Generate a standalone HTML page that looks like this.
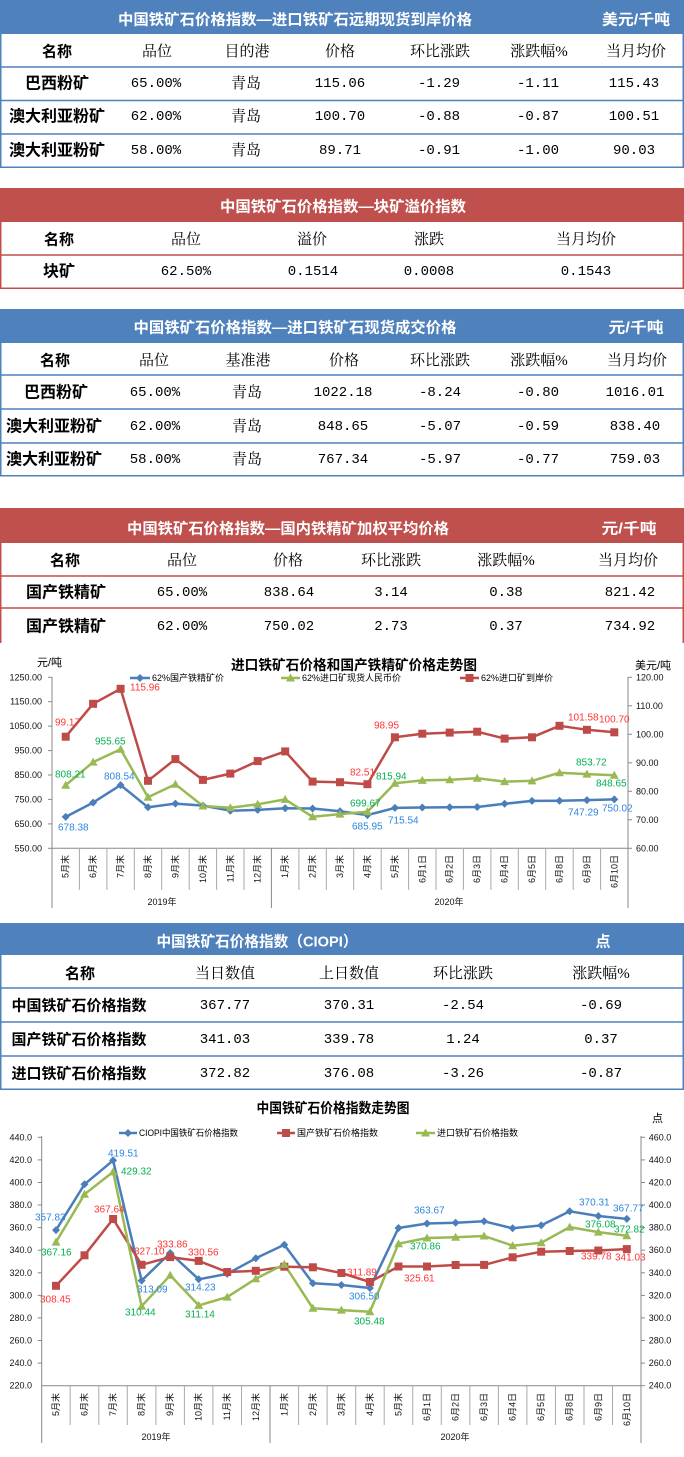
<!DOCTYPE html>
<html><head><meta charset="utf-8"><style>
html,body{margin:0;padding:0;background:#fff;}
svg{display:block;}
.t{font-family:"Liberation Sans","Noto Sans CJK SC",sans-serif;font-weight:bold;font-size:15px;fill:#fff;}
.h{font-family:"Liberation Serif","Noto Serif CJK SC",serif;font-size:15px;fill:#000;}
.hb{font-family:"Liberation Sans","Noto Sans CJK SC",sans-serif;font-weight:bold;font-size:15px;fill:#000;}
.rl{font-family:"Liberation Sans","Noto Sans CJK SC",sans-serif;font-weight:bold;font-size:16px;fill:#000;}
.n{font-family:"Liberation Mono","Noto Sans CJK SC",monospace;font-size:14px;fill:#000;}
.ax{font-family:"Liberation Sans","Noto Sans CJK SC",sans-serif;font-size:9px;fill:#111;}
.ct{font-family:"Liberation Sans","Noto Sans CJK SC",sans-serif;font-weight:bold;font-size:14px;fill:#000;}
.un{font-family:"Liberation Sans","Noto Sans CJK SC",sans-serif;font-size:11px;fill:#000;}
.lg{font-family:"Liberation Sans","Noto Sans CJK SC",sans-serif;font-size:9px;fill:#000;}
.dl{font-family:"Liberation Sans","Noto Sans CJK SC",sans-serif;font-size:10px;}
.rb{fill:#2e86de}.rr{fill:#ff3333}.rg{fill:#00b050}
text{dominant-baseline:central;}
.m{text-anchor:middle;}
</style></head><body>
<svg width="684" height="1457" viewBox="0 0 684 1457" xmlns="http://www.w3.org/2000/svg">
<defs>
<path id="dm" d="M0,-4 L4,0 L0,4 L-4,0Z" fill="#4A7EBB"/>
<path id="tr" d="M0,-4.5 L4.5,3.5 L-4.5,3.5Z" fill="#98B954"/>
<rect id="sq" x="-4" y="-4" width="8" height="8" fill="#BE4B48"/>
</defs>

<!-- ===== TABLE 1 ===== -->
<rect x="0" y="0" width="684" height="34" fill="#4F81BD"/>
<rect x="0.75" y="0.75" width="682.5" height="166.5" fill="none" stroke="#4F81BD" stroke-width="1.5"/>
<g stroke="#4F81BD" stroke-width="1.5"><line x1="0" y1="67" x2="684" y2="67"/><line x1="0" y1="100.5" x2="684" y2="100.5"/><line x1="0" y1="134" x2="684" y2="134"/></g>
<text class="t m" x="295" y="20" textLength="354" lengthAdjust="spacingAndGlyphs">中国铁矿石价格指数—进口铁矿石远期现货到岸价格</text>
<text class="t m" x="636" y="20" textLength="68" lengthAdjust="spacingAndGlyphs">美元/千吨</text>
<text class="hb m" x="57" y="52">名称</text><text class="h m" x="157" y="52">品位</text><text class="h m" x="247" y="52">目的港</text><text class="h m" x="340" y="52">价格</text><text class="h m" x="440" y="52">环比涨跌</text><text class="h m" x="539" y="52">涨跌幅%</text><text class="h m" x="636" y="52">当月均价</text>
<text class="rl m" x="57" y="84">巴西粉矿</text><text class="n m" x="156" y="84">65.00%</text><text class="h m" x="246" y="84">青岛</text><text class="n m" x="340" y="84">115.06</text><text class="n m" x="439" y="84">-1.29</text><text class="n m" x="538" y="84">-1.11</text><text class="n m" x="634" y="84">115.43</text>
<text class="rl m" x="57" y="117">澳大利亚粉矿</text><text class="n m" x="156" y="117">62.00%</text><text class="h m" x="246" y="117">青岛</text><text class="n m" x="340" y="117">100.70</text><text class="n m" x="439" y="117">-0.88</text><text class="n m" x="538" y="117">-0.87</text><text class="n m" x="634" y="117">100.51</text>
<text class="rl m" x="57" y="151">澳大利亚粉矿</text><text class="n m" x="156" y="151">58.00%</text><text class="h m" x="246" y="151">青岛</text><text class="n m" x="340" y="151">89.71</text><text class="n m" x="439" y="151">-0.91</text><text class="n m" x="538" y="151">-1.00</text><text class="n m" x="634" y="151">90.03</text>

<!-- ===== TABLE 2 ===== -->
<rect x="0" y="188" width="684" height="34" fill="#C0504D"/>
<rect x="0.75" y="188.75" width="682.5" height="99.5" fill="none" stroke="#C0504D" stroke-width="1.5"/>
<line x1="0" y1="255" x2="684" y2="255" stroke="#C0504D" stroke-width="1.5"/>
<text class="t m" x="343" y="207" textLength="246" lengthAdjust="spacingAndGlyphs">中国铁矿石价格指数—块矿溢价指数</text>
<text class="hb m" x="59" y="240">名称</text><text class="h m" x="186" y="240">品位</text><text class="h m" x="312" y="240">溢价</text><text class="h m" x="429" y="240">涨跌</text><text class="h m" x="586" y="240">当月均价</text>
<text class="rl m" x="59" y="272">块矿</text><text class="n m" x="186" y="272">62.50%</text><text class="n m" x="313" y="272">0.1514</text><text class="n m" x="429" y="272">0.0008</text><text class="n m" x="586" y="272">0.1543</text>

<!-- ===== TABLE 3 ===== -->
<rect x="0" y="309" width="684" height="34" fill="#4F81BD"/>
<rect x="0.75" y="309.75" width="682.5" height="166" fill="none" stroke="#4F81BD" stroke-width="1.5"/>
<g stroke="#4F81BD" stroke-width="1.5"><line x1="0" y1="375" x2="684" y2="375"/><line x1="0" y1="409" x2="684" y2="409"/><line x1="0" y1="443" x2="684" y2="443"/></g>
<text class="t m" x="295" y="328" textLength="323" lengthAdjust="spacingAndGlyphs">中国铁矿石价格指数—进口铁矿石现货成交价格</text>
<text class="t m" x="636" y="328" textLength="55" lengthAdjust="spacingAndGlyphs">元/千吨</text>
<text class="hb m" x="55" y="361">名称</text><text class="h m" x="154" y="361">品位</text><text class="h m" x="248" y="361">基准港</text><text class="h m" x="344" y="361">价格</text><text class="h m" x="440" y="361">环比涨跌</text><text class="h m" x="539" y="361">涨跌幅%</text><text class="h m" x="637" y="361">当月均价</text>
<text class="rl m" x="56" y="393">巴西粉矿</text><text class="n m" x="155" y="393">65.00%</text><text class="h m" x="247" y="393">青岛</text><text class="n m" x="343" y="393">1022.18</text><text class="n m" x="440" y="393">-8.24</text><text class="n m" x="538" y="393">-0.80</text><text class="n m" x="635" y="393">1016.01</text>
<text class="rl m" x="54" y="427">澳大利亚粉矿</text><text class="n m" x="155" y="427">62.00%</text><text class="h m" x="247" y="427">青岛</text><text class="n m" x="343" y="427">848.65</text><text class="n m" x="440" y="427">-5.07</text><text class="n m" x="538" y="427">-0.59</text><text class="n m" x="635" y="427">838.40</text>
<text class="rl m" x="54" y="460">澳大利亚粉矿</text><text class="n m" x="155" y="460">58.00%</text><text class="h m" x="247" y="460">青岛</text><text class="n m" x="343" y="460">767.34</text><text class="n m" x="440" y="460">-5.97</text><text class="n m" x="538" y="460">-0.77</text><text class="n m" x="635" y="460">759.03</text>

<!-- ===== TABLE 4 ===== -->
<rect x="0" y="508" width="684" height="35" fill="#C0504D"/>
<g stroke="#C0504D" stroke-width="1.5"><line x1="0.75" y1="508" x2="0.75" y2="643"/><line x1="683.25" y1="508" x2="683.25" y2="643"/><line x1="0" y1="576" x2="684" y2="576"/><line x1="0" y1="608" x2="684" y2="608"/></g>
<text class="t m" x="288" y="529" textLength="322" lengthAdjust="spacingAndGlyphs">中国铁矿石价格指数—国内铁精矿加权平均价格</text>
<text class="t m" x="629" y="529" textLength="55" lengthAdjust="spacingAndGlyphs">元/千吨</text>
<text class="hb m" x="65" y="561">名称</text><text class="h m" x="182" y="561">品位</text><text class="h m" x="288" y="561">价格</text><text class="h m" x="391" y="561">环比涨跌</text><text class="h m" x="506" y="561">涨跌幅%</text><text class="h m" x="628" y="561">当月均价</text>
<text class="rl m" x="66" y="593">国产铁精矿</text><text class="n m" x="182" y="593">65.00%</text><text class="n m" x="289" y="593">838.64</text><text class="n m" x="391" y="593">3.14</text><text class="n m" x="506" y="593">0.38</text><text class="n m" x="630" y="593">821.42</text>
<text class="rl m" x="66" y="627">国产铁精矿</text><text class="n m" x="182" y="627">62.00%</text><text class="n m" x="289" y="627">750.02</text><text class="n m" x="391" y="627">2.73</text><text class="n m" x="506" y="627">0.37</text><text class="n m" x="630" y="627">734.92</text>

<!-- ===== CHART 1 ===== -->
<text class="ct m" x="354" y="665" textLength="246" lengthAdjust="spacingAndGlyphs">进口铁矿石价格和国产铁精矿价格走势图</text>
<text class="un" x="37" y="663">元/吨</text>
<text class="un" x="635" y="666">美元/吨</text>
<!-- legend -->
<line x1="130" y1="678" x2="150" y2="678" stroke="#4A7EBB" stroke-width="2.5"/><use href="#dm" x="140" y="678"/>
<text class="lg" x="152" y="678">62%国产铁精矿价</text>
<line x1="281" y1="678" x2="300" y2="678" stroke="#98B954" stroke-width="2.5"/><use href="#tr" x="290.5" y="678"/>
<text class="lg" x="302" y="678">62%进口矿现货人民币价</text>
<line x1="460" y1="678" x2="479" y2="678" stroke="#BE4B48" stroke-width="2.5"/><use href="#sq" x="469.5" y="678"/>
<text class="lg" x="481" y="678">62%进口矿到岸价</text>
<!-- axes -->
<g stroke="#888" stroke-width="1">
<line x1="52" y1="677" x2="52" y2="908"/>
<line x1="628" y1="677" x2="628" y2="908"/>
<line x1="52" y1="848.3" x2="628" y2="848.3"/>
<line x1="271.4" y1="848" x2="271.4" y2="908"/>
<line x1="48" y1="677.3" x2="52" y2="677.3"/><line x1="48" y1="701.7" x2="52" y2="701.7"/><line x1="48" y1="726.1" x2="52" y2="726.1"/><line x1="48" y1="750.6" x2="52" y2="750.6"/><line x1="48" y1="775" x2="52" y2="775"/><line x1="48" y1="799.4" x2="52" y2="799.4"/><line x1="48" y1="823.9" x2="52" y2="823.9"/><line x1="48" y1="848.3" x2="52" y2="848.3"/>
<line x1="628" y1="677.3" x2="632" y2="677.3"/><line x1="628" y1="705.8" x2="632" y2="705.8"/><line x1="628" y1="734.3" x2="632" y2="734.3"/><line x1="628" y1="762.8" x2="632" y2="762.8"/><line x1="628" y1="791.3" x2="632" y2="791.3"/><line x1="628" y1="819.8" x2="632" y2="819.8"/><line x1="628" y1="848.3" x2="632" y2="848.3"/>
</g>
<g stroke="#aaa" stroke-width="1">
<line x1="79.4" y1="848" x2="79.4" y2="890"/><line x1="106.9" y1="848" x2="106.9" y2="890"/><line x1="134.3" y1="848" x2="134.3" y2="890"/><line x1="161.7" y1="848" x2="161.7" y2="890"/><line x1="189.2" y1="848" x2="189.2" y2="890"/><line x1="216.6" y1="848" x2="216.6" y2="890"/><line x1="244" y1="848" x2="244" y2="890"/><line x1="298.9" y1="848" x2="298.9" y2="890"/><line x1="326.3" y1="848" x2="326.3" y2="890"/><line x1="353.7" y1="848" x2="353.7" y2="890"/><line x1="381.2" y1="848" x2="381.2" y2="890"/><line x1="408.6" y1="848" x2="408.6" y2="890"/><line x1="436" y1="848" x2="436" y2="890"/><line x1="463.4" y1="848" x2="463.4" y2="890"/><line x1="490.9" y1="848" x2="490.9" y2="890"/><line x1="518.3" y1="848" x2="518.3" y2="890"/><line x1="545.7" y1="848" x2="545.7" y2="890"/><line x1="573.2" y1="848" x2="573.2" y2="890"/><line x1="600.6" y1="848" x2="600.6" y2="890"/>
</g>
<g class="ax" text-anchor="end">
<text x="42" y="677.3">1250.00</text><text x="42" y="701.7">1150.00</text><text x="42" y="726.1">1050.00</text><text x="42" y="750.6">950.00</text><text x="42" y="775">850.00</text><text x="42" y="799.4">750.00</text><text x="42" y="823.9">650.00</text><text x="42" y="848.3">550.00</text>
</g>
<g class="ax">
<text x="636" y="677.3">120.00</text><text x="636" y="705.8">110.00</text><text x="636" y="734.3">100.00</text><text x="636" y="762.8">90.00</text><text x="636" y="791.3">80.00</text><text x="636" y="819.8">70.00</text><text x="636" y="848.3">60.00</text>
</g>
<g class="ax" text-anchor="end">
<text transform="translate(65.7,855) rotate(-90)">5月末</text><text transform="translate(93.1,855) rotate(-90)">6月末</text><text transform="translate(120.6,855) rotate(-90)">7月末</text><text transform="translate(148,855) rotate(-90)">8月末</text><text transform="translate(175.4,855) rotate(-90)">9月末</text><text transform="translate(202.9,855) rotate(-90)">10月末</text><text transform="translate(230.3,855) rotate(-90)">11月末</text><text transform="translate(257.7,855) rotate(-90)">12月末</text><text transform="translate(285.2,855) rotate(-90)">1月末</text><text transform="translate(312.6,855) rotate(-90)">2月末</text><text transform="translate(340,855) rotate(-90)">3月末</text><text transform="translate(367.4,855) rotate(-90)">4月末</text><text transform="translate(394.9,855) rotate(-90)">5月末</text><text transform="translate(422.3,855) rotate(-90)">6月1日</text><text transform="translate(449.7,855) rotate(-90)">6月2日</text><text transform="translate(477.2,855) rotate(-90)">6月3日</text><text transform="translate(504.6,855) rotate(-90)">6月4日</text><text transform="translate(532,855) rotate(-90)">6月5日</text><text transform="translate(559.5,855) rotate(-90)">6月8日</text><text transform="translate(586.9,855) rotate(-90)">6月9日</text><text transform="translate(614.3,855) rotate(-90)">6月10日</text>
</g>
<text class="ax m" x="162" y="902">2019年</text>
<text class="ax m" x="449" y="902">2020年</text>
<!-- series -->
<polyline fill="none" stroke="#4A7EBB" stroke-width="2.5" stroke-linejoin="round" points="65.7,816.9 93.1,802.6 120.6,785.1 148.0,807.3 175.4,803.6 202.9,805.6 230.3,810.7 257.7,809.9 285.2,808.2 312.6,808.5 340.0,811.2 367.4,815.1 394.9,807.9 422.3,807.5 449.7,807.3 477.2,807.0 504.6,803.8 532.0,800.9 559.5,800.7 586.9,800.1 614.3,799.4"/>
<polyline fill="none" stroke="#98B954" stroke-width="2.5" stroke-linejoin="round" points="65.7,785.2 93.1,762.1 120.6,749.2 148.0,797.2 175.4,784.3 202.9,806.0 230.3,807.7 257.7,804.3 285.2,799.4 312.6,816.8 340.0,814.1 367.4,811.7 394.9,783.3 422.3,780.4 449.7,779.7 477.2,778.2 504.6,781.6 532.0,780.9 559.5,772.7 586.9,774.1 614.3,775.3"/>
<polyline fill="none" stroke="#BE4B48" stroke-width="2.5" stroke-linejoin="round" points="65.7,736.7 93.1,703.8 120.6,688.8 148.0,780.8 175.4,759.1 202.9,779.9 230.3,773.6 257.7,761.1 285.2,751.4 312.6,781.6 340.0,782.2 367.4,784.2 394.9,737.3 422.3,733.7 449.7,732.6 477.2,731.7 504.6,738.6 532.0,737.3 559.5,725.8 586.9,729.8 614.3,732.3"/>
<g>
<use href="#dm" x="65.7" y="816.9"/><use href="#dm" x="93.1" y="802.6"/><use href="#dm" x="120.6" y="785.1"/><use href="#dm" x="148" y="807.3"/><use href="#dm" x="175.4" y="803.6"/><use href="#dm" x="202.9" y="805.6"/><use href="#dm" x="230.3" y="810.7"/><use href="#dm" x="257.7" y="809.9"/><use href="#dm" x="285.2" y="808.2"/><use href="#dm" x="312.6" y="808.5"/><use href="#dm" x="340" y="811.2"/><use href="#dm" x="367.4" y="815.1"/><use href="#dm" x="394.9" y="807.9"/><use href="#dm" x="422.3" y="807.5"/><use href="#dm" x="449.7" y="807.3"/><use href="#dm" x="477.2" y="807"/><use href="#dm" x="504.6" y="803.8"/><use href="#dm" x="532" y="800.9"/><use href="#dm" x="559.5" y="800.7"/><use href="#dm" x="586.9" y="800.1"/><use href="#dm" x="614.3" y="799.4"/>
<use href="#tr" x="65.7" y="785.2"/><use href="#tr" x="93.1" y="762.1"/><use href="#tr" x="120.6" y="749.2"/><use href="#tr" x="148" y="797.2"/><use href="#tr" x="175.4" y="784.3"/><use href="#tr" x="202.9" y="806"/><use href="#tr" x="230.3" y="807.7"/><use href="#tr" x="257.7" y="804.3"/><use href="#tr" x="285.2" y="799.4"/><use href="#tr" x="312.6" y="816.8"/><use href="#tr" x="340" y="814.1"/><use href="#tr" x="367.4" y="811.7"/><use href="#tr" x="394.9" y="783.3"/><use href="#tr" x="422.3" y="780.4"/><use href="#tr" x="449.7" y="779.7"/><use href="#tr" x="477.2" y="778.2"/><use href="#tr" x="504.6" y="781.6"/><use href="#tr" x="532" y="780.9"/><use href="#tr" x="559.5" y="772.7"/><use href="#tr" x="586.9" y="774.1"/><use href="#tr" x="614.3" y="775.3"/>
<use href="#sq" x="65.7" y="736.7"/><use href="#sq" x="93.1" y="703.8"/><use href="#sq" x="120.6" y="688.8"/><use href="#sq" x="148" y="780.8"/><use href="#sq" x="175.4" y="759.1"/><use href="#sq" x="202.9" y="779.9"/><use href="#sq" x="230.3" y="773.6"/><use href="#sq" x="257.7" y="761.1"/><use href="#sq" x="285.2" y="751.4"/><use href="#sq" x="312.6" y="781.6"/><use href="#sq" x="340" y="782.2"/><use href="#sq" x="367.4" y="784.2"/><use href="#sq" x="394.9" y="737.3"/><use href="#sq" x="422.3" y="733.7"/><use href="#sq" x="449.7" y="732.6"/><use href="#sq" x="477.2" y="731.7"/><use href="#sq" x="504.6" y="738.6"/><use href="#sq" x="532" y="737.3"/><use href="#sq" x="559.5" y="725.8"/><use href="#sq" x="586.9" y="729.8"/><use href="#sq" x="614.3" y="732.3"/>
</g>
<g class="dl">
<text class="rr" x="55" y="723">99.17</text>
<text class="rr" x="130" y="688">115.96</text>
<text class="rg" x="95" y="742">955.65</text>
<text class="rg" x="55" y="775">808.21</text>
<text class="rb" x="104" y="777">808.54</text>
<text class="rb" x="58" y="828">678.38</text>
<text class="rr" x="350" y="773">82.51</text>
<text class="rg" x="350" y="804">699.67</text>
<text class="rb" x="352" y="827">685.95</text>
<text class="rr" x="374" y="726">98.95</text>
<text class="rg" x="376" y="777">815.94</text>
<text class="rb" x="388" y="821">715.54</text>
<text class="rr" x="568" y="718">101.58</text>
<text class="rr" x="599" y="720">100.70</text>
<text class="rg" x="576" y="763">853.72</text>
<text class="rg" x="596" y="784">848.65</text>
<text class="rb" x="568" y="813">747.29</text>
<text class="rb" x="602" y="809">750.02</text>
</g>

<!-- ===== CIOPI TABLE ===== -->
<rect x="0" y="923" width="684" height="32" fill="#4F81BD"/>
<rect x="0.75" y="923.75" width="682.5" height="165.5" fill="none" stroke="#4F81BD" stroke-width="1.5"/>
<g stroke="#4F81BD" stroke-width="1.5"><line x1="0" y1="988" x2="684" y2="988"/><line x1="0" y1="1022" x2="684" y2="1022"/><line x1="0" y1="1056" x2="684" y2="1056"/></g>
<text class="t m" x="257" y="942" textLength="201" lengthAdjust="spacingAndGlyphs">中国铁矿石价格指数（CIOPI）</text>
<text class="t m" x="603" y="942">点</text>
<text class="hb m" x="80" y="974">名称</text><text class="h m" x="225" y="974">当日数值</text><text class="h m" x="349" y="974">上日数值</text><text class="h m" x="463" y="974">环比涨跌</text><text class="h m" x="601" y="974">涨跌幅%</text>
<text class="hb m" x="79" y="1006">中国铁矿石价格指数</text><text class="n m" x="225" y="1006">367.77</text><text class="n m" x="349" y="1006">370.31</text><text class="n m" x="463" y="1006">-2.54</text><text class="n m" x="601" y="1006">-0.69</text>
<text class="hb m" x="79" y="1040">国产铁矿石价格指数</text><text class="n m" x="225" y="1040">341.03</text><text class="n m" x="349" y="1040">339.78</text><text class="n m" x="463" y="1040">1.24</text><text class="n m" x="601" y="1040">0.37</text>
<text class="hb m" x="79" y="1074">进口铁矿石价格指数</text><text class="n m" x="225" y="1074">372.82</text><text class="n m" x="349" y="1074">376.08</text><text class="n m" x="463" y="1074">-3.26</text><text class="n m" x="601" y="1074">-0.87</text>

<!-- ===== CHART 2 ===== -->
<text class="ct m" x="333" y="1108" textLength="153" lengthAdjust="spacingAndGlyphs">中国铁矿石价格指数走势图</text>
<text class="un" x="652" y="1119">点</text>
<line x1="119" y1="1133" x2="137" y2="1133" stroke="#4A7EBB" stroke-width="2.5"/><use href="#dm" x="128" y="1133"/>
<text class="lg" x="139" y="1133" textLength="99" lengthAdjust="spacingAndGlyphs">CIOPI中国铁矿石价格指数</text>
<line x1="277" y1="1133" x2="295" y2="1133" stroke="#BE4B48" stroke-width="2.5"/><use href="#sq" x="286" y="1133"/>
<text class="lg" x="297" y="1133">国产铁矿石价格指数</text>
<line x1="416" y1="1133" x2="435" y2="1133" stroke="#98B954" stroke-width="2.5"/><use href="#tr" x="425.5" y="1133"/>
<text class="lg" x="437" y="1133">进口铁矿石价格指数</text>
<g stroke="#888" stroke-width="1">
<line x1="41.7" y1="1136" x2="41.7" y2="1443"/>
<line x1="641" y1="1136" x2="641" y2="1443"/>
<line x1="41.7" y1="1385.7" x2="641" y2="1385.7"/>
<line x1="270" y1="1385.7" x2="270" y2="1443"/>
<line x1="37.7" y1="1137.3" x2="41.7" y2="1137.3"/><line x1="37.7" y1="1159.9" x2="41.7" y2="1159.9"/><line x1="37.7" y1="1182.5" x2="41.7" y2="1182.5"/><line x1="37.7" y1="1205" x2="41.7" y2="1205"/><line x1="37.7" y1="1227.6" x2="41.7" y2="1227.6"/><line x1="37.7" y1="1250.2" x2="41.7" y2="1250.2"/><line x1="37.7" y1="1272.8" x2="41.7" y2="1272.8"/><line x1="37.7" y1="1295.4" x2="41.7" y2="1295.4"/><line x1="37.7" y1="1317.9" x2="41.7" y2="1317.9"/><line x1="37.7" y1="1340.5" x2="41.7" y2="1340.5"/><line x1="37.7" y1="1363.1" x2="41.7" y2="1363.1"/>
<line x1="641" y1="1137.3" x2="645" y2="1137.3"/><line x1="641" y1="1159.9" x2="645" y2="1159.9"/><line x1="641" y1="1182.5" x2="645" y2="1182.5"/><line x1="641" y1="1205" x2="645" y2="1205"/><line x1="641" y1="1227.6" x2="645" y2="1227.6"/><line x1="641" y1="1250.2" x2="645" y2="1250.2"/><line x1="641" y1="1272.8" x2="645" y2="1272.8"/><line x1="641" y1="1295.4" x2="645" y2="1295.4"/><line x1="641" y1="1317.9" x2="645" y2="1317.9"/><line x1="641" y1="1340.5" x2="645" y2="1340.5"/><line x1="641" y1="1363.1" x2="645" y2="1363.1"/><line x1="641" y1="1385.7" x2="645" y2="1385.7"/>
</g>
<g stroke="#aaa" stroke-width="1">
<line x1="70.2" y1="1386" x2="70.2" y2="1425"/><line x1="98.8" y1="1386" x2="98.8" y2="1425"/><line x1="127.3" y1="1386" x2="127.3" y2="1425"/><line x1="155.9" y1="1386" x2="155.9" y2="1425"/><line x1="184.4" y1="1386" x2="184.4" y2="1425"/><line x1="212.9" y1="1386" x2="212.9" y2="1425"/><line x1="241.5" y1="1386" x2="241.5" y2="1425"/><line x1="298.6" y1="1386" x2="298.6" y2="1425"/><line x1="327.1" y1="1386" x2="327.1" y2="1425"/><line x1="355.7" y1="1386" x2="355.7" y2="1425"/><line x1="384.2" y1="1386" x2="384.2" y2="1425"/><line x1="412.7" y1="1386" x2="412.7" y2="1425"/><line x1="441.3" y1="1386" x2="441.3" y2="1425"/><line x1="469.8" y1="1386" x2="469.8" y2="1425"/><line x1="498.4" y1="1386" x2="498.4" y2="1425"/><line x1="526.9" y1="1386" x2="526.9" y2="1425"/><line x1="555.4" y1="1386" x2="555.4" y2="1425"/><line x1="584" y1="1386" x2="584" y2="1425"/><line x1="612.5" y1="1386" x2="612.5" y2="1425"/>
</g>
<g class="ax" text-anchor="end">
<text x="32" y="1137.3">440.0</text><text x="32" y="1159.9">420.0</text><text x="32" y="1182.5">400.0</text><text x="32" y="1205">380.0</text><text x="32" y="1227.6">360.0</text><text x="32" y="1250.2">340.0</text><text x="32" y="1272.8">320.0</text><text x="32" y="1295.4">300.0</text><text x="32" y="1317.9">280.0</text><text x="32" y="1340.5">260.0</text><text x="32" y="1363.1">240.0</text><text x="32" y="1385.7">220.0</text>
</g>
<g class="ax">
<text x="648.7" y="1137.3">460.0</text><text x="648.7" y="1159.9">440.0</text><text x="648.7" y="1182.5">420.0</text><text x="648.7" y="1205">400.0</text><text x="648.7" y="1227.6">380.0</text><text x="648.7" y="1250.2">360.0</text><text x="648.7" y="1272.8">340.0</text><text x="648.7" y="1295.4">320.0</text><text x="648.7" y="1317.9">300.0</text><text x="648.7" y="1340.5">280.0</text><text x="648.7" y="1363.1">260.0</text><text x="648.7" y="1385.7">240.0</text>
</g>
<g class="ax" text-anchor="end">
<text transform="translate(56,1393) rotate(-90)">5月末</text><text transform="translate(84.5,1393) rotate(-90)">6月末</text><text transform="translate(113.1,1393) rotate(-90)">7月末</text><text transform="translate(141.6,1393) rotate(-90)">8月末</text><text transform="translate(170.2,1393) rotate(-90)">9月末</text><text transform="translate(198.7,1393) rotate(-90)">10月末</text><text transform="translate(227.2,1393) rotate(-90)">11月末</text><text transform="translate(255.8,1393) rotate(-90)">12月末</text><text transform="translate(284.3,1393) rotate(-90)">1月末</text><text transform="translate(312.9,1393) rotate(-90)">2月末</text><text transform="translate(341.4,1393) rotate(-90)">3月末</text><text transform="translate(369.9,1393) rotate(-90)">4月末</text><text transform="translate(398.5,1393) rotate(-90)">5月末</text><text transform="translate(427,1393) rotate(-90)">6月1日</text><text transform="translate(455.6,1393) rotate(-90)">6月2日</text><text transform="translate(484.1,1393) rotate(-90)">6月3日</text><text transform="translate(512.6,1393) rotate(-90)">6月4日</text><text transform="translate(541.2,1393) rotate(-90)">6月5日</text><text transform="translate(569.7,1393) rotate(-90)">6月8日</text><text transform="translate(598.3,1393) rotate(-90)">6月9日</text><text transform="translate(626.8,1393) rotate(-90)">6月10日</text>
</g>
<text class="ax m" x="156" y="1437">2019年</text>
<text class="ax m" x="455" y="1437">2020年</text>
<polyline fill="none" stroke="#4A7EBB" stroke-width="2.5" stroke-linejoin="round" points="56.0,1230.1 84.5,1184.3 113.1,1160.4 141.6,1280.6 170.2,1253.0 198.7,1279.3 227.2,1273.9 255.8,1258.3 284.3,1244.7 312.9,1283.3 341.4,1285.0 369.9,1288.0 398.5,1228.0 427.0,1223.5 455.6,1222.7 484.1,1221.3 512.6,1228.3 541.2,1225.4 569.7,1211.3 598.3,1216.0 626.8,1218.9"/>
<polyline fill="none" stroke="#BE4B48" stroke-width="2.5" stroke-linejoin="round" points="56.0,1285.8 84.5,1255.3 113.1,1219.0 141.6,1264.8 170.2,1257.1 198.7,1260.9 227.2,1272.0 255.8,1270.8 284.3,1266.7 312.9,1267.3 341.4,1273.0 369.9,1282.0 398.5,1266.5 427.0,1266.5 455.6,1265.0 484.1,1264.9 512.6,1257.3 541.2,1251.7 569.7,1251.0 598.3,1250.5 626.8,1249.1"/>
<polyline fill="none" stroke="#98B954" stroke-width="2.5" stroke-linejoin="round" points="56.0,1242.1 84.5,1194.3 113.1,1171.9 141.6,1306.2 170.2,1275.3 198.7,1305.4 227.2,1297.1 255.8,1278.7 284.3,1264.3 312.9,1308.3 341.4,1310.1 369.9,1311.8 398.5,1243.7 427.0,1238.0 455.6,1237.3 484.1,1236.0 512.6,1245.7 541.2,1242.8 569.7,1227.1 598.3,1232.1 626.8,1235.7"/>
<g>
<use href="#dm" x="56" y="1230.1"/><use href="#dm" x="84.5" y="1184.3"/><use href="#dm" x="113.1" y="1160.4"/><use href="#dm" x="141.6" y="1280.6"/><use href="#dm" x="170.2" y="1253"/><use href="#dm" x="198.7" y="1279.3"/><use href="#dm" x="227.2" y="1273.9"/><use href="#dm" x="255.8" y="1258.3"/><use href="#dm" x="284.3" y="1244.7"/><use href="#dm" x="312.9" y="1283.3"/><use href="#dm" x="341.4" y="1285"/><use href="#dm" x="369.9" y="1288"/><use href="#dm" x="398.5" y="1228"/><use href="#dm" x="427" y="1223.5"/><use href="#dm" x="455.6" y="1222.7"/><use href="#dm" x="484.1" y="1221.3"/><use href="#dm" x="512.6" y="1228.3"/><use href="#dm" x="541.2" y="1225.4"/><use href="#dm" x="569.7" y="1211.3"/><use href="#dm" x="598.3" y="1216"/><use href="#dm" x="626.8" y="1218.9"/>
<use href="#sq" x="56" y="1285.8"/><use href="#sq" x="84.5" y="1255.3"/><use href="#sq" x="113.1" y="1219"/><use href="#sq" x="141.6" y="1264.8"/><use href="#sq" x="170.2" y="1257.1"/><use href="#sq" x="198.7" y="1260.9"/><use href="#sq" x="227.2" y="1272"/><use href="#sq" x="255.8" y="1270.8"/><use href="#sq" x="284.3" y="1266.7"/><use href="#sq" x="312.9" y="1267.3"/><use href="#sq" x="341.4" y="1273"/><use href="#sq" x="369.9" y="1282"/><use href="#sq" x="398.5" y="1266.5"/><use href="#sq" x="427" y="1266.5"/><use href="#sq" x="455.6" y="1265"/><use href="#sq" x="484.1" y="1264.9"/><use href="#sq" x="512.6" y="1257.3"/><use href="#sq" x="541.2" y="1251.7"/><use href="#sq" x="569.7" y="1251"/><use href="#sq" x="598.3" y="1250.5"/><use href="#sq" x="626.8" y="1249.1"/>
<use href="#tr" x="56" y="1242.1"/><use href="#tr" x="84.5" y="1194.3"/><use href="#tr" x="113.1" y="1171.9"/><use href="#tr" x="141.6" y="1306.2"/><use href="#tr" x="170.2" y="1275.3"/><use href="#tr" x="198.7" y="1305.4"/><use href="#tr" x="227.2" y="1297.1"/><use href="#tr" x="255.8" y="1278.7"/><use href="#tr" x="284.3" y="1264.3"/><use href="#tr" x="312.9" y="1308.3"/><use href="#tr" x="341.4" y="1310.1"/><use href="#tr" x="369.9" y="1311.8"/><use href="#tr" x="398.5" y="1243.7"/><use href="#tr" x="427" y="1238"/><use href="#tr" x="455.6" y="1237.3"/><use href="#tr" x="484.1" y="1236"/><use href="#tr" x="512.6" y="1245.7"/><use href="#tr" x="541.2" y="1242.8"/><use href="#tr" x="569.7" y="1227.1"/><use href="#tr" x="598.3" y="1232.1"/><use href="#tr" x="626.8" y="1235.7"/>
</g>
<g class="dl">
<text class="rb" x="35" y="1218">357.83</text>
<text class="rg" x="41" y="1253">367.16</text>
<text class="rr" x="40" y="1300">308.45</text>
<text class="rb" x="108" y="1154">419.51</text>
<text class="rg" x="121" y="1172">429.32</text>
<text class="rr" x="94" y="1210">367.64</text>
<text class="rr" x="134" y="1252">327.10</text>
<text class="rb" x="137" y="1290">313.09</text>
<text class="rg" x="125" y="1313">310.44</text>
<text class="rr" x="157" y="1245">333.86</text>
<text class="rr" x="188" y="1253">330.56</text>
<text class="rb" x="185" y="1288">314.23</text>
<text class="rg" x="185" y="1315">311.14</text>
<text class="rr" x="347" y="1273">311.89</text>
<text class="rb" x="349" y="1297">306.50</text>
<text class="rg" x="354" y="1322">305.48</text>
<text class="rb" x="414" y="1211">363.67</text>
<text class="rg" x="410" y="1247">370.86</text>
<text class="rr" x="404" y="1279">325.61</text>
<text class="rb" x="579" y="1203">370.31</text>
<text class="rb" x="613" y="1209">367.77</text>
<text class="rg" x="585" y="1225">376.08</text>
<text class="rg" x="614" y="1230">372.82</text>
<text class="rr" x="581" y="1257">339.78</text>
<text class="rr" x="615" y="1258">341.03</text>
</g>
</svg>
</body></html>
